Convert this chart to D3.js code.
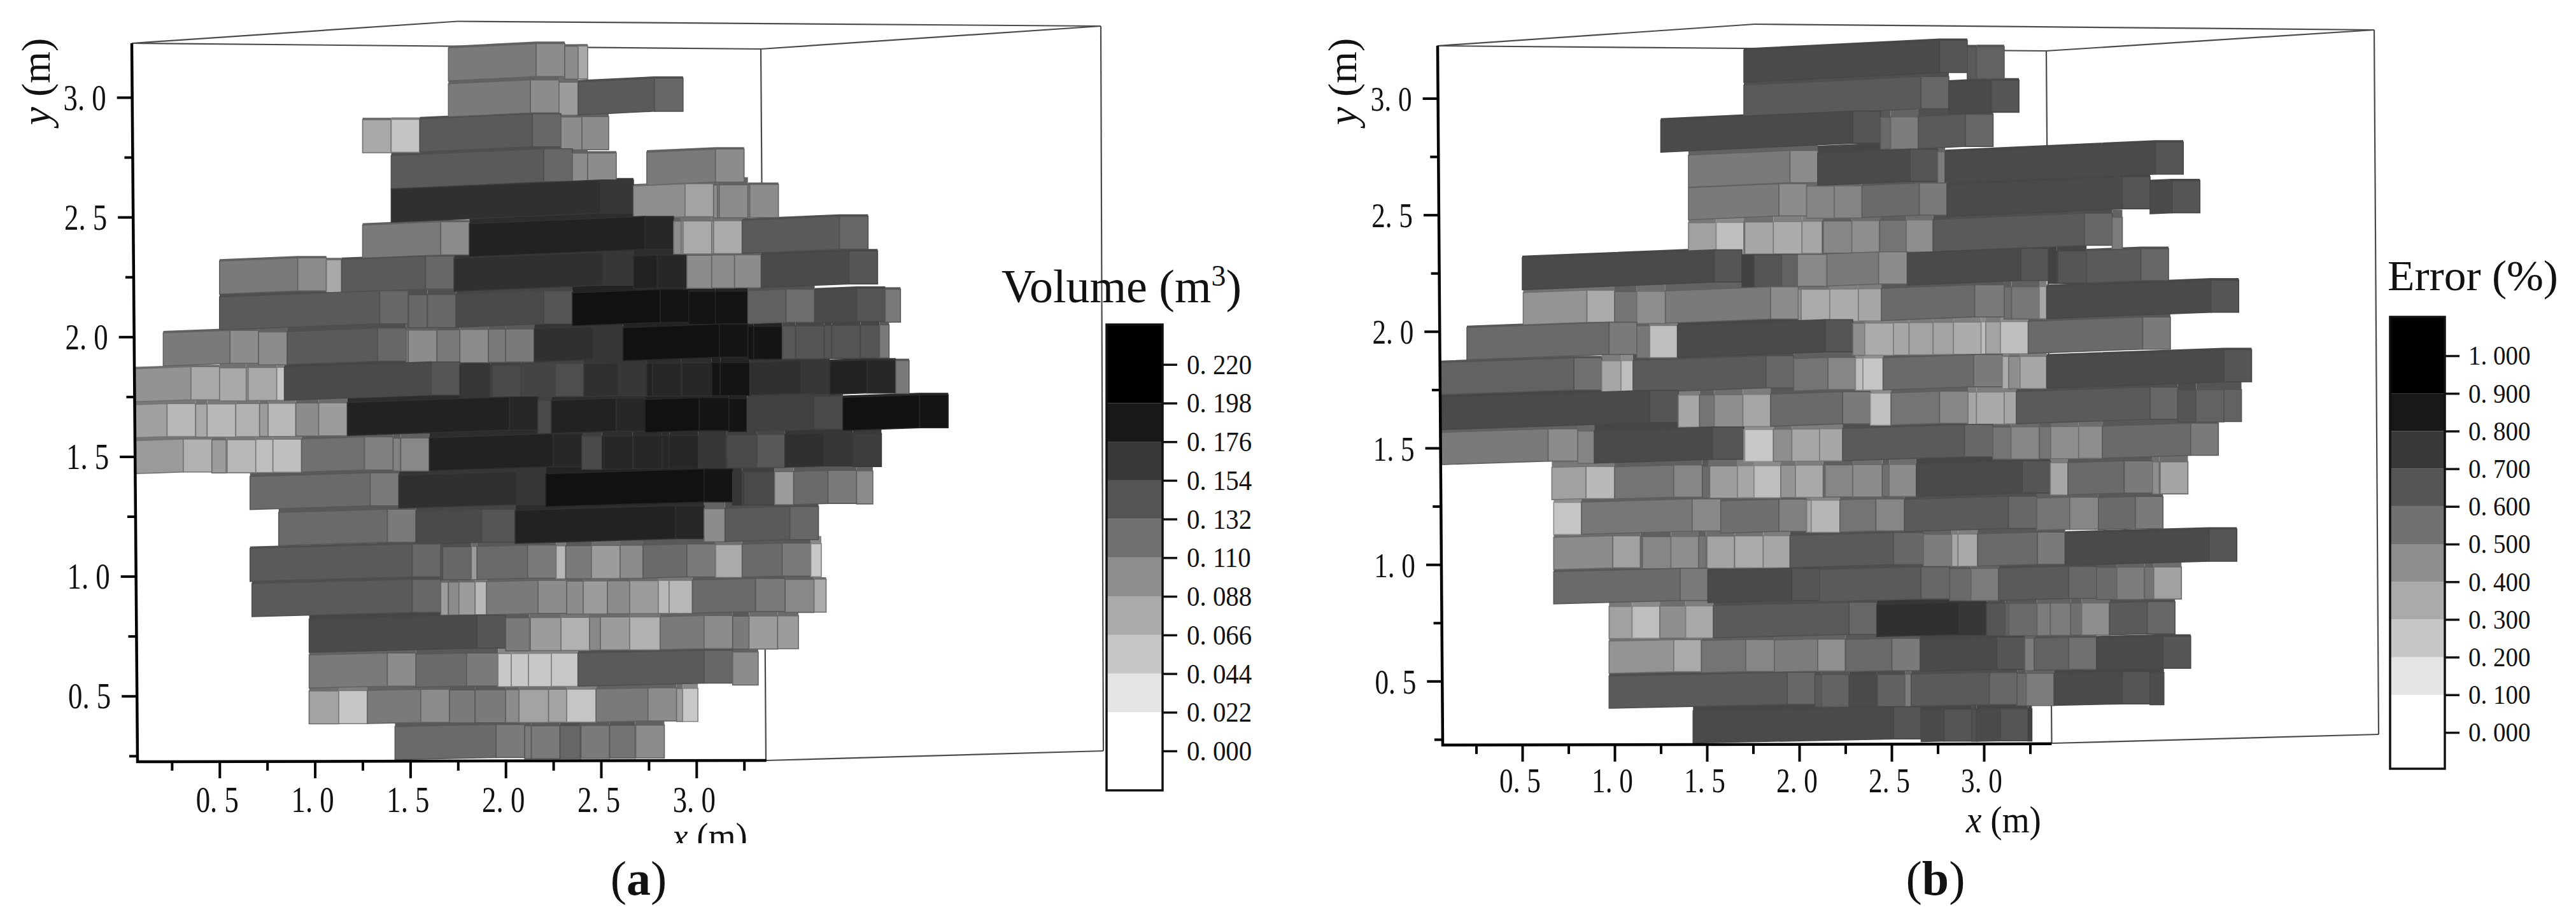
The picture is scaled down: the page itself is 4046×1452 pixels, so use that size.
<!DOCTYPE html>
<html><head><meta charset="utf-8"><style>html,body{margin:0;background:#fff}svg{display:block}text{font-family:"Liberation Serif",serif;fill:#111}</style>
<script src="https://cdn.jsdelivr.net/npm/d3@7/dist/d3.min.js"></script></head><body><script>
// Row positions (m), top row first
const rowY=[3.07,2.92,2.77,2.62,2.48,2.33,2.18,2.03,1.88,1.73,1.58,1.43,1.28,1.13,0.98,0.833,0.684,0.535,0.385,0.236];
const xMajor=[0.5,1,1.5,2,2.5,3], xMinor=[0.25,0.75,1.25,1.75,2.25,2.75,3.25];
const yMajor=[0.5,1,1.5,2,2.5,3], yMinor=[0.25,0.75,1.25,1.75,2.25,2.75];
const volumeTicks=[0,0.022,0.044,0.066,0.088,0.11,0.132,0.154,0.176,0.198,0.22];
const errorTicks=[0,0.1,0.2,0.3,0.4,0.5,0.6,0.7,0.8,0.9,1];
const legendGreys=['#ffffff','#e4e4e4','#c6c6c6','#aaaaaa','#8d8d8d','#717171','#555555','#393939','#181818','#000000'];
// Blocks per row: [x start (m), x end (m), value]
const volumeRows=[
[[1.70,2.31,.112],[2.31,2.38,.112],[2.38,2.43,.091]],
[[1.70,2.28,.112],[2.28,2.38,.1],[2.38,2.93,.139]],
[[1.25,1.40,.091],[1.40,1.55,.071],[1.55,2.29,.139],[2.29,2.40,.112],[2.40,2.54,.112]],
[[1.40,2.35,.139],[2.35,2.43,.112],[2.43,2.58,.112],[2.74,3.25,.112]],
[[1.40,2.65,.174],[2.67,3.09,.095],[3.09,3.11,.112],[3.11,3.27,.112],[3.27,3.43,.112]],
[[1.25,1.81,.112],[1.81,2.88,.186],[2.88,2.92,.112],[2.92,3.08,.09],[3.08,3.24,.09],[3.24,3.90,.139]],
[[.50,1.06,.112],[1.06,1.14,.091],[1.14,1.73,.139],[1.73,2.66,.174],[2.67,2.945,.186],[2.95,3.08,.112],[3.08,3.20,.112],[3.20,3.34,.112],[3.34,3.95,.152]],
[[.50,1.49,.139],[1.49,1.59,.139],[1.59,1.74,.139],[1.74,2.35,.152],[2.35,2.96,.2],[2.96,3.10,.2],[3.10,3.25,.2],[3.27,3.62,.134],[3.62,3.99,.152],[3.99,4.07,.125]],
[[.205,.705,.112],[.705,.855,.112],[.855,1.478,.139],[1.478,1.64,.112],[1.64,1.76,.125],[1.76,1.91,.112],[1.91,2.0,.125],[2.0,2.15,.125],[2.15,2.61,.174],[2.615,3.27,.2],[3.27,3.30,.2],[3.30,3.45,.2],[3.45,3.52,.15],[3.52,3.67,.152],[3.67,3.71,.152],[3.71,3.86,.152],[3.86,3.96,.152],[3.96,4.01,.125]],
[[.056,.50,.091],[.50,.64,.091],[.64,.80,.091],[.80,.84,.071],[.84,1.76,.152],[1.76,1.92,.174],[1.92,2.08,.16],[2.08,2.41,.157],[2.41,2.74,.174],[2.74,2.92,.186],[2.92,3.075,.186],[3.08,3.12,.2],[3.125,3.27,.2],[3.28,3.70,.174],[3.70,4.045,.186],[4.045,4.115,.125]],
[[.056,.375,.08],[.375,.435,.091],[.435,.585,.08],[.585,.71,.085],[.71,.755,.1],[.755,.90,.08],[.90,1.02,.112],[1.02,1.17,.1],[1.17,2.17,.186],[2.17,2.24,.16],[2.24,2.73,.186],[2.73,3.165,.2],[3.17,3.265,.2],[3.266,3.765,.16],[3.768,4.32,.2]],
[[.056,.46,.085],[.46,.535,.1],[.535,.69,.08],[.69,.76,.075],[.78,.93,.075],[.93,1.41,.12],[1.41,1.45,.12],[1.45,1.6,.115],[1.6,2.40,.186],[2.40,2.506,.16],[2.506,2.666,.186],[2.666,2.82,.186],[2.82,2.85,.186],[2.858,3.005,.186],[3.01,3.15,.174],[3.157,3.31,.16],[3.317,3.458,.15],[3.464,3.82,.174],[3.82,3.97,.17]],
[[.66,1.44,.125],[1.44,2.21,.174],[2.21,3.19,.2],[3.19,3.24,.174],[3.24,3.40,.16],[3.41,3.50,.1],[3.51,3.84,.125],[3.84,3.925,.112]],
[[.81,1.53,.125],[1.53,2.025,.152],[2.05,3.04,.186],[3.04,3.15,.112],[3.15,3.64,.139]],
[[.66,1.66,.139],[1.66,1.82,.139],[1.82,1.85,.1],[1.85,2.265,.125],[2.265,2.315,.08],[2.315,2.45,.125],[2.45,2.6,.1],[2.6,2.72,.112],[2.72,3.1,.125],[3.1,3.24,.09],[3.24,3.6,.125],[3.6,3.655,.06]],
[[.67,1.66,.139],[1.66,1.695,.1],[1.70,1.755,.112],[1.755,1.83,.1],[1.84,1.895,.08],[1.9,2.32,.112],[2.32,2.40,.112],[2.407,2.53,.1],[2.534,2.64,.112],[2.65,2.794,.1],[2.80,2.85,.08],[2.857,2.972,.08],[2.979,3.46,.125],[3.465,3.615,.115],[3.617,3.68,.09]],
[[.97,2.0,.152],[2.0,2.125,.125],[2.125,2.28,.1],[2.29,2.44,.085],[2.44,2.647,.1],[2.65,2.80,.085],[2.81,3.19,.112],[3.19,3.273,.125],[3.276,3.423,.1],[3.426,3.535,.1]],
[[.97,1.53,.112],[1.53,1.945,.125],[1.96,2.025,.06],[2.03,2.115,.06],[2.12,2.23,.06],[2.24,2.375,.06],[2.379,3.19,.139],[3.19,3.324,.112]],
[[.97,1.12,.095],[1.125,1.27,.07],[1.275,1.705,.112],[1.705,1.84,.125],[1.84,1.99,.125],[2.0,2.06,.112],[2.07,2.215,.095],[2.225,2.315,.095],[2.32,2.468,.07],[2.474,2.896,.112],[2.896,2.924,.1],[2.928,3.008,.06]],
[[1.42,2.10,.125],[2.10,2.13,.125],[2.135,2.285,.125],[2.285,2.39,.139],[2.39,2.545,.125],[2.545,2.679,.13],[2.679,2.832,.112]]
];
const errorRows=[
[[1.70,2.91,.69],[2.91,2.96,.63],[2.96,3.11,.6]],
[[1.70,2.81,.63],[2.81,3.19,.69]],
[[1.25,2.44,.69],[2.44,2.495,.57],[2.495,2.645,.5],[2.645,3.05,.63]],
[[1.40,2.10,.507],[2.10,2.75,.69],[2.75,2.79,.5],[2.79,4.08,.69]],
[[1.40,2.04,.507],[2.04,2.18,.47],[2.19,2.34,.47],[2.34,2.80,.57],[2.80,3.90,.69],[3.90,4.17,.69]],
[[1.40,1.54,.36],[1.55,1.70,.25],[1.70,1.855,.42],[1.86,2.01,.32],[2.015,2.12,.34],[2.125,2.28,.53],[2.285,2.43,.43],[2.435,2.575,.53],[2.58,2.725,.43],[2.725,3.695,.63],[3.695,3.75,.5]],
[[.50,1.69,.69],[1.69,1.755,.72],[1.755,1.905,.69],[1.905,1.99,.6],[1.99,2.14,.52],[2.15,2.58,.507],[2.585,3.35,.69],[3.35,3.395,.72],[3.395,3.55,.69],[3.556,4.0,.63]],
[[.505,1.0,.41],[1.0,1.12,.53],[1.12,1.27,.43],[1.275,1.995,.507],[1.995,2.16,.41],[2.165,2.31,.32],[2.32,2.44,.34],[2.445,3.10,.57],[3.11,3.15,.55],[3.15,3.30,.52],[3.30,3.34,.34],[3.34,4.38,.69]],
[[.20,1.12,.57],[1.12,1.19,.52],[1.19,1.34,.34],[1.34,2.29,.69],[2.29,2.35,.43],[2.355,2.505,.32],[2.51,2.59,.34],[2.595,2.72,.35],[2.725,2.83,.35],[2.835,2.98,.32],[2.985,3.005,.25],[3.01,3.087,.35],[3.09,3.235,.25],[3.24,4.01,.57]],
[[.055,.93,.6],[.93,1.03,.34],[1.035,1.1,.25],[1.1,1.97,.63],[1.97,2.305,.53],[2.305,2.34,.25],[2.345,2.45,.22],[2.454,3.094,.57],[3.10,3.13,.32],[3.134,3.19,.43],[3.196,3.34,.34],[3.34,4.45,.69]],
[[.055,1.34,.69],[1.345,1.45,.34],[1.46,1.53,.53],[1.54,1.69,.43],[1.695,1.845,.34],[1.845,2.385,.57],[2.385,2.495,.24],[2.497,2.91,.53],[2.914,2.956,.34],[2.96,3.108,.33],[3.11,3.174,.34],[3.176,4.05,.63],[4.05,4.15,.65],[4.15,4.30,.6],[4.30,4.395,.6]],
[[.055,.79,.507],[.80,.89,.47],[.89,1.68,.69],[1.70,1.855,.22],[1.86,1.955,.43],[1.96,2.105,.34],[2.11,2.235,.34],[2.235,3.045,.63],[3.048,3.14,.53],[3.147,3.292,.46],[3.30,3.358,.53],[3.362,3.507,.43],[3.513,3.635,.43],[3.642,4.27,.57]],
[[.66,.995,.36],[1.0,1.47,.53],[1.475,1.51,.57],[1.51,1.665,.45],[1.665,1.745,.34],[1.755,1.9,.25],[1.9,1.98,.41],[1.98,2.13,.33],[2.13,2.29,.53],[2.29,2.44,.44],[2.45,2.48,.55],[2.487,2.63,.44],[2.634,3.358,.69],[3.36,3.445,.34],[3.455,3.91,.57],[3.913,3.945,.43],[3.95,4.105,.43]],
[[.67,.815,.22],[.82,1.57,.52],[1.575,2.04,.55],[2.04,2.06,.34],[2.065,2.21,.28],[2.22,2.565,.53],[2.57,3.283,.63],[3.286,3.615,.53],[3.62,3.97,.57]],
[[.67,1.14,.44],[1.14,1.3,.53],[1.305,1.45,.43],[1.455,1.49,.53],[1.495,1.65,.43],[1.65,1.80,.41],[1.805,1.95,.34],[1.95,2.66,.63],[2.672,2.82,.5],[2.826,2.853,.34],[2.86,2.962,.33],[2.966,3.44,.57],[3.44,4.37,.69]],
[[.67,1.505,.57],[1.505,2.11,.69],[2.11,2.81,.63],[2.815,2.923,.57],[2.93,3.075,.5],[3.08,3.61,.63],[3.61,3.715,.57],[3.72,3.865,.5],[3.87,3.917,.53],[3.92,4.07,.44]],
[[.97,1.09,.36],[1.095,1.24,.25],[1.245,1.38,.43],[1.385,1.535,.33],[1.535,2.42,.63],[2.42,3.015,.79],[3.015,3.11,.65],[3.115,3.13,.6],[3.134,3.283,.57],[3.288,3.356,.5],[3.36,3.467,.5],[3.47,3.523,.55],[3.53,3.675,.43],[3.68,4.035,.63]],
[[.97,1.47,.41],[1.47,1.86,.53],[1.865,2.25,.5],[2.25,2.652,.57],[2.655,3.22,.69],[3.222,3.27,.5],[3.273,3.61,.6],[3.61,4.12,.69]],
[[.97,2.085,.63],[2.085,2.115,.63],[2.12,2.27,.6],[2.27,2.42,.69],[2.42,2.573,.65],[2.573,2.6,.5],[2.606,3.18,.63],[3.18,3.226,.57],[3.23,3.38,.5],[3.38,3.9,.69],[3.9,3.975,.68]],
[[1.425,2.66,.69],[2.66,2.935,.69],[2.935,2.96,.66],[2.96,3.24,.69],[3.24,3.26,.72]]
];
const W=4046,H=1452,blockDepth=0.15,rowHeight=0.138,xEnd=3.367,yLow=0.227,yHigh=3.227;
const svg=d3.select('body').append('svg').attr('width',W).attr('height',H).attr('viewBox',`0 0 ${W} ${H}`);
svg.append('rect').attr('width',W).attr('height',H).attr('fill','#fff');
const clipId=(s)=>`clip-${s}`;
const tiltOf=d3.scaleLinear([0.236,3.07],[0.02,0.05]);
function fmt(v,n){return v.toFixed(n).replace('.','. ');}

function panel(cfg){
  const g=svg.append('g');
  const x=d3.scaleLinear([0,3],cfg.xRange), y=d3.scaleLinear([0,3],cfg.yRange);
  const grey=d3.scaleLinear(cfg.greyDomain,[255,cfg.greyEnd]).clamp(true);
  const shade=(n)=>{const c=Math.round(Math.max(0,Math.min(200,n)));return `rgb(${c},${c},${c})`;};
  const f=cfg.frame;
  g.append('g').attr('fill','none').attr('stroke','#4a4a4a').attr('stroke-width',2.2).selectAll('path')
   .data([[f.A,f.B],[f.B,f.C],[f.C,f.D],[f.A,f.D],[f.D,f.E],[f.C,f.F],[f.E,f.F]]).join('path').attr('d',d3.line());
  // blocks: top faces go behind all front and side faces
  const topFaces=g.append('g'), faces=g.append('g');
  cfg.rows.forEach((row,i)=>{
    const y0=rowY[i], tilt=tiltOf(y0), drift=tilt*0.3, x00=x(row[0][0]);
    const upper=i>0?cfg.rows[i-1]:[];
    const rowG=faces.append('g');
    row.forEach(([a,b,v],j)=>{
      const next=row[j+1];
      const bEnd=(next&&next[0]-b<0.05&&next[0]>b)?next[0]:b;
      const base=y(y0)-drift*(x(a)-x00), h=y(y0)-y(y0+rowHeight);
      const hasFront=(b-a)>blockDepth;
      const xa=x(a), xb=x(bEnd), frontEnd=hasFront?x(b-blockDepth):xa;
      const rise=tilt*(frontEnd-xa), gv=grey(v);
      const edge=shade(gv*0.55+30);
      const covered=upper.some(u=>u[0]<=a+0.02&&u[1]>=a)&&upper.some(u=>u[0]<=b&&u[1]>=b-0.02);
      const up=covered?12:3;
      topFaces.append('polygon').attr('fill',covered?shade(gv*0.6+25):edge)
        .attr('points',[[xa,base-h],[frontEnd,base-h-rise],[xb,base-h-rise],[xb,base-h-rise-up],[frontEnd,base-h-rise-up],[xa,base-h-up]].join(' '));
      if(hasFront) rowG.append('polygon').attr('fill',shade(gv)).attr('stroke',edge).attr('stroke-width',1.6)
        .attr('points',[[xa,base],[frontEnd,base-rise],[frontEnd,base-rise-h],[xa,base-h]].join(' '));
      const lift=hasFront?1.15:cfg.stubLift;
      rowG.append('polygon').attr('fill',shade(gv*lift)).attr('stroke',edge).attr('stroke-width',1.6)
        .attr('points',[[frontEnd,base-rise],[xb,base-rise],[xb,base-rise-h],[frontEnd,base-rise-h]].join(' '));
    });
  });
  // axes
  const lineX=d3.scaleLinear([yHigh,yLow],cfg.axisXRange);
  const topPt=[lineX(yHigh),y(yHigh)], cornerPt=[lineX(yLow),y(yLow)], endPt=[x(xEnd),y(yLow)-2];
  g.append('path').attr('fill','none').attr('stroke','#000').attr('stroke-width',4.5)
    .attr('d',d3.line()([topPt,cornerPt,endPt]));
  const isXMajor=d=>xMajor.includes(d), isYMajor=d=>yMajor.includes(d);
  const xAxis=d3.axisBottom(x).tickValues([...xMajor,...xMinor].sort(d3.ascending)).tickSizeOuter(0).tickFormat(d=>isXMajor(d)?fmt(d,1):'');
  const xg=g.append('g').attr('transform',`translate(0,${y(yLow)})`).call(xAxis);
  xg.select('.domain').remove();
  xg.selectAll('.tick line').attr('stroke','#000').attr('stroke-width',4).attr('y2',d=>isXMajor(d)?26:14);
  xg.selectAll('.tick text').attr('fill','#111').attr('font-family','Liberation Serif').attr('font-size',cfg.tickFont).attr('dy',0).attr('y',0)
    .attr('text-anchor','middle').attr('transform',`translate(-4,${cfg.xLabelDrop}) scale(0.8,1)`);
  const yAxis=d3.axisLeft(y).tickValues([...yMajor,...yMinor].sort(d3.ascending)).tickSizeOuter(0).tickFormat(d=>isYMajor(d)?fmt(d,1):'');
  const yg=g.append('g').call(yAxis);
  yg.select('.domain').remove();
  yg.selectAll('.tick').attr('transform',d=>`translate(${lineX(d)},${y(d)})`);
  yg.selectAll('.tick line').attr('stroke','#000').attr('stroke-width',4).attr('x2',d=>isYMajor(d)?-24:-13);
  yg.selectAll('.tick text').attr('fill','#111').attr('font-family','Liberation Serif').attr('font-size',cfg.tickFont).attr('x',0).attr('dy',0)
    .attr('text-anchor','end').attr('transform',`translate(-41,19) scale(0.8,1)`);
  // axis titles
  svg.append('clipPath').attr('id',clipId(cfg.id)).append('rect').attr('x',cfg.xTitle[0]-200).attr('y',cfg.xTitle[1]-100).attr('width',400).attr('height',cfg.xTitleClip-(cfg.xTitle[1]-100));
  const xt=g.append('text').attr('clip-path',`url(#${clipId(cfg.id)})`).attr('x',cfg.xTitle[0]).attr('y',cfg.xTitle[1]).attr('text-anchor','middle').attr('font-size',60).attr('textLength',118).attr('lengthAdjust','spacingAndGlyphs');
  xt.append('tspan').attr('font-style','italic').text('x'); xt.append('tspan').text(' (m)');
  const yt=g.append('text').attr('transform',`translate(${cfg.yTitle[0]},${cfg.yTitle[1]}) rotate(-90)`).attr('text-anchor','middle').attr('font-size',64);
  yt.append('tspan').attr('font-style','italic').text('y'); yt.append('tspan').text(' (m)');
  // legend
  const L=cfg.legend, ticks=cfg.ticks;
  const ls=d3.scaleLinear([ticks[0],ticks[ticks.length-1]],[L.y0,L.y1]);
  const leg=g.append('g');
  legendGreys.forEach((c,i)=>{
    const bot=i===0?L.bottom:ls(ticks[i]), top=i===legendGreys.length-1?L.top:ls(ticks[i+1]);
    leg.append('rect').attr('x',L.x0).attr('width',L.x1-L.x0).attr('y',top).attr('height',bot-top).attr('fill',c);
  });
  leg.append('rect').attr('x',L.x0).attr('y',L.top).attr('width',L.x1-L.x0).attr('height',L.bottom-L.top).attr('fill','none').attr('stroke','#111').attr('stroke-width',3.5);
  const lAxis=d3.axisRight(ls).tickValues(ticks).tickSizeOuter(0).tickFormat(d=>fmt(d,3));
  const lg=leg.append('g').attr('transform',`translate(${L.x1},0)`).call(lAxis);
  lg.select('.domain').remove();
  lg.selectAll('.tick line').attr('stroke','#111').attr('stroke-width',3.5).attr('x2',23);
  lg.selectAll('.tick text').attr('fill','#111').attr('font-family','Liberation Serif').attr('font-size',L.font).attr('x',0).attr('dy',0)
    .attr('text-anchor','start').attr('transform',`translate(${L.labelGap},${L.font*0.33}) scale(${L.sx},1)`);
  // legend title
  const tt=g.append('text').attr('x',cfg.title[0]).attr('y',cfg.title[1]).attr('font-size',cfg.titleFont);
  if(cfg.titleLen) tt.attr('textLength',cfg.titleLen).attr('lengthAdjust','spacingAndGlyphs');
  cfg.titleParts.forEach(p=>{const s=tt.append('tspan').text(p.t); if(p.sup) s.attr('dy',-26).attr('font-size',cfg.titleFont*0.62); if(p.down) s.attr('dy',26);});
  // caption
  const cap=g.append('text').attr('x',cfg.caption[0]).attr('y',cfg.caption[1]).attr('text-anchor','middle').attr('font-size',76);
  cap.append('tspan').text('('); cap.append('tspan').attr('font-weight','bold').text(cfg.id); cap.append('tspan').text(')');
}

panel({id:'a',rows:volumeRows,greyDomain:[0,0.2],greyEnd:17,stubLift:1.15,ticks:volumeTicks,
  xRange:[195,1093.8],yRange:[1282.4,153.5],axisXRange:[207,216],tickFont:56,xLabelDrop:79,
  frame:{A:[207,68],B:[719,33.5],C:[1729,41],D:[1195,77],E:[1203,1195],F:[1733,1180]},
  xTitle:[1115,1334],xTitleClip:1325,yTitle:[78,128],
  legend:{x0:1738,x1:1826,top:510,bottom:1242,y0:1180,y1:572.7,font:44,sx:0.93,labelGap:38},
  title:[1573,475],titleFont:74,titleParts:[{t:'Volume (m'},{t:'3',sup:true},{t:')',down:true}],caption:[1003,1406]});
panel({id:'b',rows:errorRows,greyDomain:[0,1],greyEnd:-7,stubLift:1.0,ticks:errorTicks,
  xRange:[2246,3116],yRange:[1254,155],axisXRange:[2258,2266],tickFont:54,xLabelDrop:74,
  frame:{A:[2258,72],B:[2756,38],C:[3729,47],D:[3214,80],E:[3222.5,1168],F:[3736,1154]},
  xTitle:[3147,1308],xTitleClip:1400,yTitle:[2130,128],
  legend:{x0:3754,x1:3840,top:498,bottom:1208,y0:1151,y1:559,font:42,sx:0.93,labelGap:37},
  title:[3750,456],titleFont:68,titleLen:268,titleParts:[{t:'Error (%)'}],caption:[3040,1406]});
</script></body></html>
